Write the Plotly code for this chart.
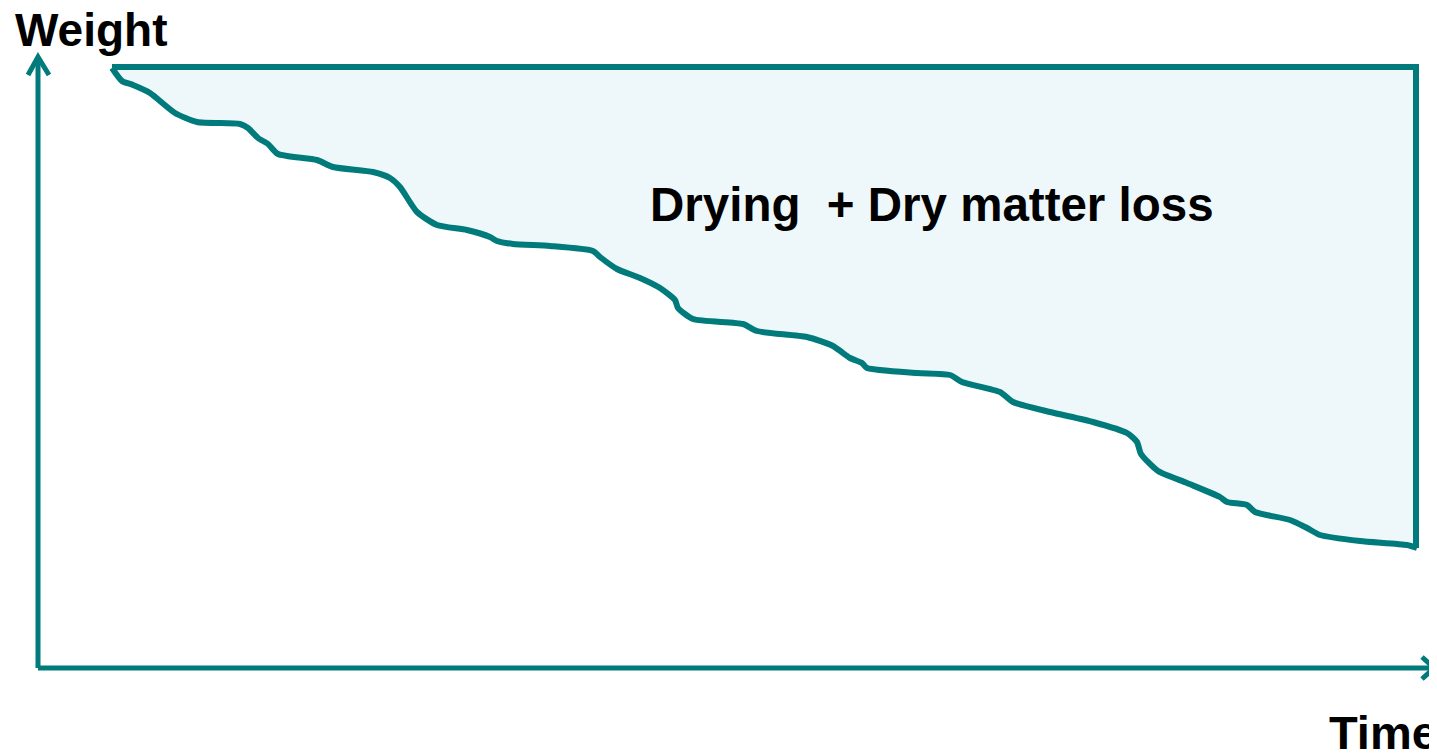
import plotly.graph_objects as go

# Schematic weight-loss curve (time in px-like units, weight upward)
time = [112, 122, 133, 150, 175, 197, 240, 248, 258, 268, 278, 317, 333, 373, 390, 400,
        417, 437, 467, 490, 497, 513, 550, 593, 600, 617, 640, 660, 675, 678, 693, 743,
        757, 807, 833, 850, 862, 867, 917, 950, 962, 1000, 1013, 1050, 1093, 1127, 1137,
        1141, 1158, 1187, 1220, 1227, 1247, 1255, 1290, 1307, 1320, 1360, 1407, 1417]
ypix = [68, 81, 85, 93, 113, 122, 124, 128, 138, 144, 154, 160, 167, 172, 178, 187,
        212, 225, 230, 237, 241, 244, 246, 251, 257, 269, 278, 288, 300, 308, 319, 324,
        331, 337, 346, 358, 363, 368, 373, 375, 382, 392, 402, 412, 422, 433, 442,
        454, 471, 483, 497, 502, 505, 512, 520, 528, 535, 541, 545, 548]
H = 756
weight = [H - v for v in ypix]
top_weight = H - 67
end_time = 1416

TEAL = "#007A7A"
FILL = "#EEF7F9"
LW = 6

fig = go.Figure()

xs = time + [end_time, end_time, time[0]]
ys = weight + [weight[-1], top_weight, top_weight]
fig.add_trace(go.Scatter(x=xs, y=ys, mode="lines", fill="toself", fillcolor=FILL,
                         line=dict(color="rgba(0,0,0,0)", width=0), hoverinfo="skip", showlegend=False))
fig.add_trace(go.Scatter(x=time, y=weight, mode="lines",
                         line=dict(color=TEAL, width=LW, shape="spline", smoothing=0.6),
                         hoverinfo="skip", showlegend=False))
fig.add_trace(go.Scatter(x=[time[0], end_time, end_time], y=[top_weight, top_weight, weight[-1]],
                         mode="lines", line=dict(color=TEAL, width=LW),
                         hoverinfo="skip", showlegend=False))

# axes with open arrowheads
AW = 5
ax0x, ax0y = 38, H - 668
fig.add_trace(go.Scatter(x=[ax0x, ax0x], y=[ax0y, H - 57], mode="lines",
                         line=dict(color=TEAL, width=AW), hoverinfo="skip", showlegend=False))
fig.add_trace(go.Scatter(x=[28, ax0x, 49], y=[H - 75, H - 57, H - 75], mode="lines",
                         line=dict(color=TEAL, width=AW), hoverinfo="skip", showlegend=False))
fig.add_trace(go.Scatter(x=[ax0x, 1434], y=[ax0y, ax0y], mode="lines",
                         line=dict(color=TEAL, width=AW), hoverinfo="skip", showlegend=False))
fig.add_trace(go.Scatter(x=[1422, 1434, 1422], y=[H - 657, H - 668, H - 679], mode="lines",
                         line=dict(color=TEAL, width=AW), hoverinfo="skip", showlegend=False))

FONT = "Liberation Sans, Arial, sans-serif"
fig.add_annotation(x=13, y=H - 30, text="<b>Weight</b>", showarrow=False, xanchor="left",
                   yanchor="middle", font=dict(family=FONT, size=46, color="black"))
fig.add_annotation(x=1327, y=H - 732, text="<b>Time</b>", showarrow=False, xanchor="left",
                   yanchor="middle", font=dict(family=FONT, size=47, color="black"))
fig.add_annotation(x=648, y=H - 204, text="<b>Drying&nbsp; + Dry matter loss</b>", showarrow=False,
                   xanchor="left", yanchor="middle", font=dict(family=FONT, size=47.5, color="black"))

# page body has an 8px margin: size/range chosen so data units equal page pixels
fig.update_layout(width=1429, height=748, margin=dict(l=0, r=0, t=0, b=0),
                  paper_bgcolor="white", plot_bgcolor="white",
                  xaxis=dict(range=[8, 1437], visible=False, fixedrange=True),
                  yaxis=dict(range=[0, 748], visible=False, fixedrange=True))

fig.write_html("out.html")
